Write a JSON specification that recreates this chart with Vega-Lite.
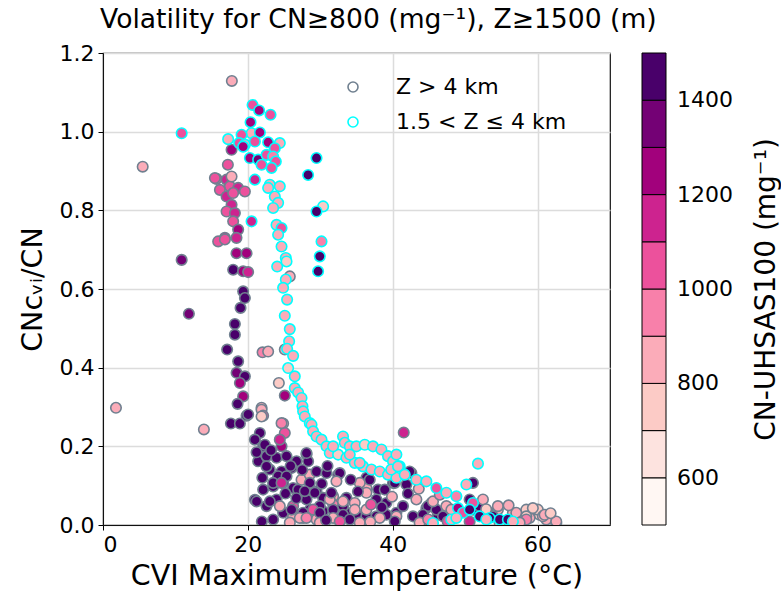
{
  "$schema": "https://vega.github.io/schema/vega-lite/v6.json",
  "autosize": {"type": "none"},
  "width": 507,
  "height": 472,
  "padding": {"left": 103, "top": 53, "right": 171, "bottom": 72},
  "background": "white",
  "title": {"text": "Volatility for CN≥800 (mg⁻¹), Z≥1500 (m)", "anchor": "start", "frame": "group", "dx": -3, "offset": 8, "fontSize": 26.6, "fontWeight": "normal", "font": "DejaVu Sans", "color": "black"},
  "datasets": {
    "hi": [
      {"x":17.79,"y":1.129,"c":850},{"x":5.48,"y":0.911,"c":850},{"x":10.86,"y":0.674,"c":1350},{"x":11.86,"y":0.537,"c":1350},{"x":1.79,"y":0.298,"c":850},{"x":13.93,"y":0.243,"c":850},{"x":41.52,"y":0.235,"c":1150},
      {"x":17.75,"y":0.954,"c":1250},{"x":17.24,"y":0.916,"c":1050},{"x":15.68,"y":0.880,"c":1050},{"x":17.06,"y":0.878,"c":1150},{"x":17.52,"y":0.861,"c":1050},{"x":16.14,"y":0.852,"c":1050},{"x":18.66,"y":0.857,"c":1150},{"x":19.59,"y":0.848,"c":1050},{"x":17.06,"y":0.835,"c":1150},{"x":17.97,"y":0.844,"c":1050},{"x":17.75,"y":0.814,"c":1150},{"x":17.06,"y":0.797,"c":1050},{"x":18.21,"y":0.793,"c":1150},{"x":17.97,"y":0.772,"c":1050},{"x":18.66,"y":0.751,"c":1250},{"x":16.83,"y":0.730,"c":1150},{"x":15.90,"y":0.721,"c":1050},{"x":18.43,"y":0.730,"c":1150},{"x":18.43,"y":0.691,"c":1250},{"x":19.82,"y":0.691,"c":1250},{"x":17.97,"y":0.649,"c":1450},{"x":19.35,"y":0.645,"c":1250},{"x":20.04,"y":0.643,"c":1150},{"x":15.45,"y":0.882,"c":1050},{"x":17.75,"y":0.886,"c":850},{"x":16.83,"y":0.726,"c":1050},{"x":19.35,"y":0.594,"c":1450},{"x":25.79,"y":0.632,"c":850},{"x":19.59,"y":0.577,"c":1450},{"x":18.99,"y":0.552,"c":1450},{"x":18.21,"y":0.511,"c":1450},{"x":18.21,"y":0.484,"c":1450},{"x":17.14,"y":0.446,"c":1450},{"x":18.66,"y":0.416,"c":1450},{"x":18.44,"y":0.387,"c":1350},{"x":19.59,"y":0.378,"c":1450},{"x":18.90,"y":0.361,"c":1250},{"x":19.35,"y":0.327,"c":1250},{"x":18.58,"y":0.308,"c":1450},{"x":17.66,"y":0.258,"c":1450},{"x":18.90,"y":0.258,"c":1450},{"x":19.82,"y":0.278,"c":1450},{"x":22.03,"y":0.439,"c":950},{"x":22.80,"y":0.441,"c":850},{"x":24.28,"y":0.361,"c":750},{"x":21.89,"y":0.298,"c":850},{"x":25.10,"y":0.329,"c":1250},{"x":25.10,"y":0.446,"c":850},
      {"x":20.04,"y":0.281,"c":1450},{"x":21.89,"y":0.293,"c":850},{"x":22.11,"y":0.278,"c":1050},{"x":24.87,"y":0.258,"c":850},{"x":25.10,"y":0.234,"c":1050},{"x":24.65,"y":0.200,"c":1250},{"x":21.66,"y":0.234,"c":1450},{"x":20.97,"y":0.217,"c":1450},{"x":22.11,"y":0.200,"c":1450},{"x":21.42,"y":0.162,"c":1450},{"x":22.58,"y":0.175,"c":1450},{"x":23.96,"y":0.171,"c":1450},{"x":25.34,"y":0.175,"c":1450},{"x":26.72,"y":0.162,"c":1450},{"x":28.10,"y":0.179,"c":1450},{"x":28.32,"y":0.162,"c":1450},{"x":23.03,"y":0.141,"c":1450},{"x":24.65,"y":0.136,"c":1450},{"x":26.03,"y":0.145,"c":1450},{"x":20.97,"y":0.064,"c":1450},{"x":22.11,"y":0.090,"c":1450},{"x":23.49,"y":0.098,"c":1450},{"x":24.87,"y":0.107,"c":1450},{"x":26.25,"y":0.094,"c":1450},{"x":27.41,"y":0.115,"c":850},{"x":28.55,"y":0.128,"c":850},{"x":29.48,"y":0.136,"c":1450},{"x":30.86,"y":0.132,"c":1450},{"x":32.46,"y":0.128,"c":1450},{"x":29.48,"y":0.086,"c":1450},{"x":31.77,"y":0.073,"c":850},{"x":30.39,"y":0.069,"c":1450},{"x":33.61,"y":0.069,"c":1450},{"x":34.76,"y":0.056,"c":850},{"x":35.68,"y":0.103,"c":850},{"x":36.37,"y":0.094,"c":850},{"x":36.37,"y":0.120,"c":1450},{"x":37.97,"y":0.090,"c":1450},{"x":38.90,"y":0.090,"c":1450},{"x":40.04,"y":0.107,"c":1450},{"x":37.75,"y":0.065,"c":1450},{"x":39.13,"y":0.056,"c":1450},
      {"x":23.49,"y":0.014,"c":1450},{"x":24.87,"y":0.031,"c":1450},{"x":27.17,"y":0.026,"c":1050},{"x":28.55,"y":0.039,"c":1450},{"x":30.39,"y":0.035,"c":1450},{"x":32.23,"y":0.022,"c":1450},{"x":33.61,"y":0.031,"c":1450},{"x":34.99,"y":0.026,"c":1450},{"x":36.37,"y":0.022,"c":1450},{"x":37.75,"y":0.022,"c":1450},{"x":39.13,"y":0.026,"c":1450},{"x":40.51,"y":0.031,"c":1450},{"x":22.58,"y":0.048,"c":1450},{"x":23.96,"y":0.065,"c":1450},{"x":26.25,"y":0.048,"c":1050},{"x":28.10,"y":0.065,"c":1450},{"x":29.93,"y":0.048,"c":1450},{"x":31.77,"y":0.052,"c":950},{"x":33.14,"y":0.048,"c":1450},{"x":26.25,"y":0.022,"c":850},{"x":27.63,"y":0.018,"c":1050},
      {"x":22.34,"y":0.204,"c":1450},{"x":22.58,"y":0.149,"c":1450},{"x":24.18,"y":0.124,"c":1450},{"x":25.34,"y":0.124,"c":1450},{"x":23.49,"y":0.107,"c":1450},{"x":24.65,"y":0.107,"c":1150},{"x":26.94,"y":0.090,"c":1450},{"x":28.55,"y":0.107,"c":1450},{"x":32.69,"y":0.132,"c":1450},{"x":21.21,"y":0.060,"c":1450},{"x":23.03,"y":0.060,"c":1450},{"x":24.41,"y":0.048,"c":850},{"x":26.03,"y":0.039,"c":1450},{"x":27.63,"y":0.031,"c":1450},{"x":29.01,"y":0.039,"c":1050},{"x":31.77,"y":0.039,"c":1450},{"x":33.14,"y":0.026,"c":1450},{"x":27.17,"y":0.018,"c":850},{"x":29.48,"y":0.014,"c":850},{"x":31.31,"y":0.065,"c":850},{"x":32.23,"y":0.111,"c":850},{"x":21.89,"y":0.276,"c":750},{"x":24.65,"y":0.259,"c":950},
      {"x":28.10,"y":0.183,"c":1450},{"x":27.86,"y":0.086,"c":1450},{"x":29.24,"y":0.082,"c":1450},{"x":31.54,"y":0.082,"c":1450},{"x":36.83,"y":0.115,"c":1450},{"x":40.28,"y":0.107,"c":1450},{"x":42.58,"y":0.132,"c":1450},{"x":41.89,"y":0.103,"c":1450},{"x":41.42,"y":0.048,"c":1450},{"x":44.65,"y":0.043,"c":1450},{"x":46.25,"y":0.026,"c":1450},{"x":49.24,"y":0.031,"c":1450},{"x":51.08,"y":0.107,"c":1450},{"x":51.08,"y":0.039,"c":1450},{"x":53.38,"y":0.031,"c":1450},{"x":35.45,"y":0.107,"c":850},{"x":36.37,"y":0.082,"c":850},{"x":33.14,"y":0.060,"c":850},{"x":34.76,"y":0.039,"c":850},{"x":36.37,"y":0.039,"c":850},{"x":38.21,"y":0.018,"c":850},{"x":40.51,"y":0.022,"c":850},{"x":43.27,"y":0.065,"c":850},{"x":45.34,"y":0.056,"c":750},{"x":47.41,"y":0.048,"c":850},{"x":48.55,"y":0.031,"c":850},{"x":52.0,"y":0.048,"c":1450},{"x":54.52,"y":0.039,"c":850},{"x":56.59,"y":0.031,"c":850},{"x":58.44,"y":0.039,"c":750},{"x":59.35,"y":0.031,"c":750},{"x":60.28,"y":0.026,"c":750},{"x":61.2,"y":0.014,"c":850},{"x":62.58,"y":0.005,"c":950},{"x":58.9,"y":0.018,"c":850},{"x":60.04,"y":0.039,"c":750},{"x":60.73,"y":0.022,"c":850},{"x":29.93,"y":0.031,"c":1450},{"x":28.10,"y":0.018,"c":950},{"x":31.77,"y":0.018,"c":850},{"x":34.07,"y":0.014,"c":1450},
      {"x":42.34,"y":0.136,"c":1450},{"x":42.80,"y":0.022,"c":1450},{"x":44.87,"y":0.048,"c":1450},{"x":46.03,"y":0.039,"c":1450},{"x":44.18,"y":0.026,"c":1450},{"x":46.94,"y":0.022,"c":1450},{"x":50.62,"y":0.065,"c":1450},{"x":52.46,"y":0.065,"c":850},{"x":53.83,"y":0.022,"c":1450},{"x":45.56,"y":0.060,"c":850},{"x":48.10,"y":0.039,"c":850},{"x":54.52,"y":0.048,"c":850},{"x":57.06,"y":0.031,"c":850},{"x":58.44,"y":0.022,"c":750},{"x":59.35,"y":0.043,"c":750},{"x":60.97,"y":0.026,"c":850},{"x":62.58,"y":0.009,"c":850},{"x":58.44,"y":0.014,"c":950},{"x":46.5,"y":0.077,"c":950},
      {"x":21.93,"y":0.009,"c":1450},{"x":25.79,"y":0.006,"c":850},{"x":29.93,"y":0.006,"c":850},{"x":32.69,"y":0.009,"c":1050},{"x":35.45,"y":0.006,"c":850},{"x":40.28,"y":0.009,"c":1450},{"x":43.72,"y":0.006,"c":850},{"x":47.59,"y":0.009,"c":1050},{"x":50.62,"y":0.009,"c":1150},{"x":54.76,"y":0.006,"c":750},{"x":57.52,"y":0.006,"c":850},{"x":24.41,"y":0.217,"c":1150},
      {"x":23.2,"y":0.190,"c":1450},{"x":25.9,"y":0.150,"c":1450},{"x":27.5,"y":0.140,"c":1450},{"x":30.2,"y":0.105,"c":1450},{"x":31.0,"y":0.150,"c":1450},{"x":34.2,"y":0.115,"c":1450},{"x":35.2,"y":0.085,"c":1450},{"x":38.5,"y":0.045,"c":1450},{"x":39.9,"y":0.072,"c":850},{"x":37.0,"y":0.052,"c":1050},{"x":42.1,"y":0.080,"c":1450},{"x":43.6,"y":0.092,"c":850},{"x":26.7,"y":0.068,"c":1450},{"x":25.2,"y":0.080,"c":1450},{"x":22.0,"y":0.120,"c":1450},{"x":21.2,"y":0.185,"c":1450},{"x":30.8,"y":0.012,"c":1450},{"x":36.9,"y":0.008,"c":850},{"x":44.9,"y":0.014,"c":950},{"x":52.9,"y":0.040,"c":750},{"x":56.0,"y":0.050,"c":850},{"x":61.8,"y":0.030,"c":750}
    ],
    "mid": [
      {"x":10.86,"y":0.996,"c":1050},{"x":20.65,"y":1.068,"c":1050},{"x":21.56,"y":1.054,"c":1250},{"x":23.13,"y":1.043,"c":1050},{"x":20.37,"y":1.024,"c":1250},{"x":20.51,"y":0.996,"c":850},{"x":21.66,"y":0.998,"c":1250},{"x":17.28,"y":0.981,"c":850},{"x":19.13,"y":0.992,"c":1050},{"x":18.80,"y":0.971,"c":1050},{"x":19.59,"y":0.967,"c":850},{"x":20.97,"y":0.975,"c":1050},{"x":22.80,"y":0.973,"c":1250},{"x":24.41,"y":0.971,"c":850},{"x":23.72,"y":0.958,"c":1050},{"x":19.35,"y":0.962,"c":1250},{"x":20.28,"y":0.933,"c":1250},{"x":21.42,"y":0.929,"c":1350},{"x":21.89,"y":0.916,"c":1050},{"x":22.58,"y":0.941,"c":1050},{"x":23.49,"y":0.937,"c":950},{"x":23.86,"y":0.924,"c":1050},{"x":23.27,"y":0.908,"c":1050},{"x":20.97,"y":0.878,"c":1150},{"x":23.03,"y":0.865,"c":850},{"x":24.41,"y":0.861,"c":850},{"x":22.80,"y":0.857,"c":850},{"x":23.72,"y":0.835,"c":850},{"x":24.18,"y":0.819,"c":850},{"x":23.49,"y":0.806,"c":850},
      {"x":29.48,"y":0.933,"c":1450},{"x":28.32,"y":0.890,"c":1450},{"x":30.39,"y":0.810,"c":750},{"x":29.48,"y":0.797,"c":1450},{"x":20.51,"y":0.772,"c":1150},{"x":23.96,"y":0.763,"c":850},{"x":24.65,"y":0.755,"c":1050},{"x":24.18,"y":0.738,"c":850},{"x":30.17,"y":0.721,"c":950},{"x":24.65,"y":0.708,"c":850},{"x":29.93,"y":0.683,"c":1450},{"x":25.24,"y":0.679,"c":850},{"x":29.70,"y":0.645,"c":1450},{"x":24.05,"y":0.657,"c":850},{"x":25.34,"y":0.670,"c":750},{"x":25.24,"y":0.624,"c":850},{"x":24.87,"y":0.603,"c":850},
      {"x":25.42,"y":0.573,"c":850},{"x":25.10,"y":0.532,"c":850},{"x":25.79,"y":0.498,"c":850},{"x":25.70,"y":0.467,"c":850},{"x":25.42,"y":0.448,"c":850},{"x":26.25,"y":0.430,"c":850},{"x":25.56,"y":0.399,"c":750},{"x":26.48,"y":0.378,"c":850},{"x":26.48,"y":0.348,"c":850},{"x":26.94,"y":0.337,"c":850},{"x":27.41,"y":0.323,"c":850},{"x":27.54,"y":0.302,"c":850},{"x":27.63,"y":0.289,"c":850},{"x":27.86,"y":0.276,"c":850},{"x":28.55,"y":0.259,"c":850},{"x":28.79,"y":0.255,"c":850},{"x":29.01,"y":0.238,"c":850},{"x":29.48,"y":0.225,"c":850},{"x":30.17,"y":0.217,"c":850},{"x":30.86,"y":0.200,"c":850},{"x":31.31,"y":0.183,"c":850},{"x":32.46,"y":0.179,"c":750},{"x":33.14,"y":0.225,"c":850},{"x":33.38,"y":0.209,"c":850},{"x":34.07,"y":0.200,"c":850},{"x":34.99,"y":0.200,"c":850},{"x":36.14,"y":0.204,"c":750},{"x":37.28,"y":0.200,"c":850},{"x":38.44,"y":0.192,"c":850},{"x":39.35,"y":0.175,"c":850},{"x":40.04,"y":0.162,"c":850},{"x":33.61,"y":0.171,"c":850},{"x":34.76,"y":0.158,"c":850},{"x":35.90,"y":0.149,"c":850},{"x":37.06,"y":0.141,"c":850},{"x":38.21,"y":0.136,"c":850},{"x":39.35,"y":0.128,"c":850},{"x":40.51,"y":0.120,"c":850},{"x":40.51,"y":0.179,"c":850},{"x":31.77,"y":0.200,"c":850},{"x":34.07,"y":0.179,"c":850},{"x":35.45,"y":0.158,"c":850},
      {"x":40.97,"y":0.149,"c":1050},{"x":41.66,"y":0.128,"c":850},{"x":43.27,"y":0.115,"c":850},{"x":44.65,"y":0.111,"c":850},{"x":46.03,"y":0.094,"c":1050},{"x":47.41,"y":0.082,"c":850},{"x":48.79,"y":0.073,"c":950},{"x":50.17,"y":0.103,"c":850},{"x":51.77,"y":0.156,"c":850},{"x":51.08,"y":0.056,"c":1050},{"x":49.01,"y":0.043,"c":1250},{"x":48.10,"y":0.014,"c":850},{"x":49.70,"y":0.031,"c":1050},{"x":52.0,"y":0.022,"c":1450},{"x":53.38,"y":0.018,"c":1450},{"x":54.76,"y":0.014,"c":1450},{"x":55.90,"y":0.014,"c":1450},{"x":45.56,"y":0.005,"c":850},{"x":48.79,"y":0.018,"c":850},{"x":52.92,"y":0.014,"c":850},{"x":56.59,"y":0.009,"c":850},{"x":50.62,"y":0.039,"c":1450},{"x":39.79,"y":0.141,"c":850},{"x":40.73,"y":0.149,"c":850}
    ]
  },
  "resolve": {"axis": {"y": "independent"}},
  "layer": [
    {
      "data": {"name": "hi"},
      "mark": {"type": "point", "shape": "circle", "filled": false, "size": 110, "strokeWidth": 1.6, "opacity": 1, "fillOpacity": 1, "clip": true},
      "encoding": {
        "x": {"field": "x", "type": "quantitative", "scale": {"domain": [0, 70], "nice": false}, "axis": {"values": [0, 20, 40, 60], "title": "CVI Maximum Temperature (°C)", "format": "d"}},
        "y": {"field": "y", "type": "quantitative", "scale": {"domain": [0, 1.2], "nice": false}, "axis": {"values": [0, 0.2, 0.4, 0.6, 0.8, 1.0, 1.2], "format": ".1f", "title": "CNᴄᵥᵢ/CN"}},
        "fill": {"field": "c", "type": "quantitative", "scale": {"type": "quantize", "domain": [500, 1500], "nice": false, "range": ["#fff7f3", "#fde3df", "#fccbc6", "#fbacb9", "#f880aa", "#ec519c", "#cd238f", "#a2017c", "#740175", "#49006a"]},
          "legend": {"type": "gradient", "direction": "vertical", "orient": "none", "legendX": 539, "legendY": 0, "gradientLength": 472, "gradientThickness": 24, "gradientStrokeColor": "black", "gradientStrokeWidth": 1, "labelFontSize": 22, "labelOffset": 11, "format": "d", "labelExpr": "datum.value % 200 == 0 ? datum.label : ''", "title": null}},
        "stroke": {"datum": "Z > 4 km", "type": "nominal", "scale": {"domain": ["Z > 4 km", "1.5 < Z ≤ 4 km"], "range": ["#708090", "#00ffff"]},
          "legend": {"title": null, "orient": "none", "legendX": 239, "legendY": 23, "symbolSize": 100, "symbolStrokeWidth": 1.6, "symbolType": "circle", "symbolFillColor": "transparent", "labelFontSize": 22, "labelOffset": 32, "rowPadding": 13, "padding": 0, "labelLimit": 400}}
      }
    },
    {
      "data": {"name": "mid"},
      "mark": {"type": "point", "shape": "circle", "filled": false, "size": 110, "strokeWidth": 1.6, "opacity": 1, "fillOpacity": 1, "clip": true},
      "encoding": {
        "x": {"field": "x", "type": "quantitative"},
        "y": {"field": "y", "type": "quantitative", "axis": {"orient": "right", "labels": false, "ticks": false, "domain": false, "grid": false, "title": "CN-UHSAS100 (mg⁻¹)", "titleAngle": 270, "titleX": 156, "titleY": 236, "titleAlign": "center", "titleBaseline": "middle", "titleFontSize": 28, "titleLimit": 600}},
        "fill": {"field": "c", "type": "quantitative", "scale": {"type": "quantize", "domain": [500, 1500], "nice": false, "range": ["#fff7f3", "#fde3df", "#fccbc6", "#fbacb9", "#f880aa", "#ec519c", "#cd238f", "#a2017c", "#740175", "#49006a"]},
          "legend": {"type": "gradient", "direction": "vertical", "orient": "none", "legendX": 539, "legendY": 0, "gradientLength": 472, "gradientThickness": 24, "gradientStrokeColor": "black", "gradientStrokeWidth": 1, "labelFontSize": 22, "labelOffset": 11, "format": "d", "labelExpr": "datum.value % 200 == 0 ? datum.label : ''", "title": null}},
        "stroke": {"datum": "1.5 < Z ≤ 4 km", "type": "nominal"}
      }
    }
  ],
  "config": {
    "font": "DejaVu Sans",
    "view": {"stroke": "#111111", "strokeWidth": 1.2},
    "axis": {"labelFontSize": 22, "titleFontSize": 28.5, "titleFontWeight": "normal", "labelColor": "black", "titleColor": "black", "tickColor": "black", "domainColor": "#111111", "gridColor": "#dcdcdc", "gridWidth": 1.5, "tickSize": 5, "labelPadding": 4},
    "axisX": {"titlePadding": 6},
    "axisY": {"titlePadding": 12},
    "legend": {"labelColor": "black", "titleColor": "black", "labelFont": "DejaVu Sans", "titleFont": "DejaVu Sans"}
  }
}
